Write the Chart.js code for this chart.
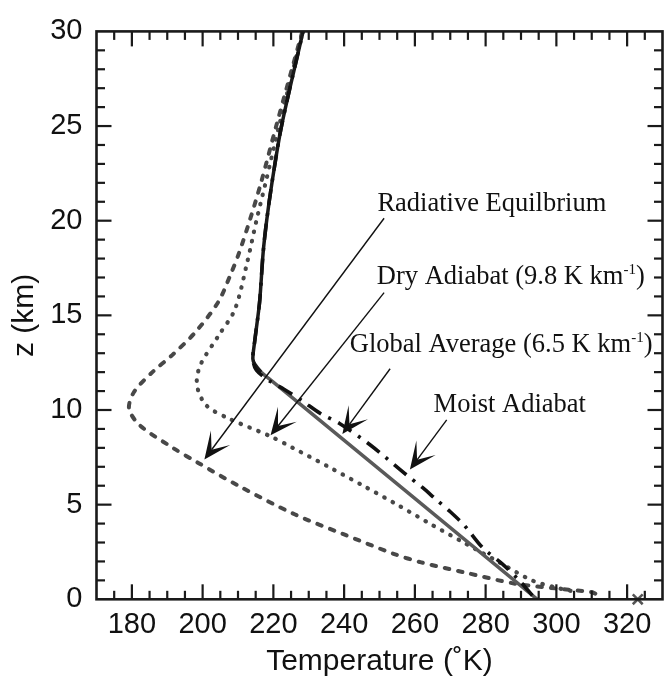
<!DOCTYPE html>
<html>
<head>
<meta charset="utf-8">
<script src="https://cdn.jsdelivr.net/npm/chart.js@4/dist/chart.umd.min.js"></script>
<style>
html,body{margin:0;padding:0;background:#fff;overflow:hidden;width:665px;height:680px}
#wrap{position:relative;width:672px;height:680px}
</style>
</head>
<body>
<div id="wrap"><canvas id="c" width="672" height="680"></canvas></div>
<script>
// ---- tick labels ----
const xTicks = [180, 200, 220, 240, 260, 280, 300, 320];
const yTicks = [0, 5, 10, 15, 20, 25, 30];

// ---- series: altitude (km) and temperature (K) ----
const radZ = [0.3, 0.38, 0.56, 0.82, 1.43, 1.95, 2.39, 3.44, 4.49, 5.97, 7.19, 8.0, 9.2, 10.07, 10.95, 12.0, 12.9, 14.1, 15.7, 17.2, 18.3, 20, 22, 25, 30];
const radT = [311, 309.9, 300.6, 288.5, 273.8, 261.8, 254.2, 239.8, 226.0, 210.4, 198.9, 191.6, 182.2, 179.2, 180.6, 185.8, 191.4, 197.9, 204.4, 208.0, 210.3, 213.3, 216.5, 220.8, 228.2];

const dryZ = [0.45, 0.6, 1.0, 2.0, 3.0, 4.0, 5.0, 6.0, 7.0, 8.0, 8.6, 9.55, 10.25, 11.3, 12.35, 13.9, 15.3, 17.8, 20, 22, 25, 30];
const dryT = [304, 300.3, 293.1, 283.4, 273.8, 264.2, 255.0, 245.4, 235.6, 225.5, 219.3, 207.4, 201.0, 198.4, 199.3, 204.4, 209.1, 212.6, 215.2, 217.8, 221.6, 228.3];

const globalZ = [0, 11.0, 11.5, 12.0, 12.4, 12.7, 13.6, 15.7, 18.3, 20, 22, 25, 30];
const globalT = [294.6, 223.1, 219.8, 216.6, 214.8, 214.2, 214.7, 216.1, 217.1, 218.1, 219.6, 222.3, 228.4];

const moistZ = [0.2, 1.0, 1.87, 2.74, 3.9, 4.66, 5.27, 5.88, 6.58, 8.15, 9.3, 9.8, 10.5, 11.1, 11.5, 12.1, 12.7, 13.6, 15.7, 18.3, 20, 22, 25, 30];
const moistT = [293.2, 289.5, 284.7, 279.1, 274, 269.8, 266, 262.3, 257.6, 247.4, 238.6, 233.4, 228, 223, 219.2, 215.2, 214.2, 214.7, 216.1, 217.1, 218.1, 219.6, 222.3, 228.4];

const markerT = [323];
const markerZ = [0];

// ---- annotations (data coordinates) ----
const noteText  = ['Radiative Equilbrium', 'Dry Adiabat (9.8 K km', 'Global Average (6.5 K km', 'Moist Adiabat'];
const noteSup   = ['', '-1', '-1', ''];
const noteTail  = ['', ')', ')', ''];
const noteT     = [249.4, 249.25, 241.6, 265.3];
const noteZ     = [20.53, 16.64, 13.06, 9.88];
const arrowFromT = [251.3, 251.3, 253.0, 269.0];
const arrowFromZ = [20.13, 16.2, 12.18, 9.48];
const arrowToT   = [200.5, 219.2, 239.5, 258.6];
const arrowToZ   = [7.39, 8.66, 8.73, 6.86];

const pts = (T, Z) => Z.map((z, i) => ({x: T[i], y: z}));
const base = {showLine: true, pointRadius: 0, pointHoverRadius: 0, fill: false, tension: 0.3};

const framePlugin = {
  id: 'frame',
  afterDraw(chart) {
    const {ctx, chartArea: a, scales: {x, y}} = chart;
    ctx.save();
    ctx.strokeStyle = '#1a1a1a';
    ctx.lineCap = 'butt';
    ctx.lineWidth = 2.2;
    for (let v = Math.ceil(x.min / 5) * 5; v <= x.max; v += 5) {
      if (v === x.min || v === x.max) continue;
      const px = x.getPixelForValue(v);
      const len = v % 20 === 0 ? 15 : 8.5;
      ctx.beginPath(); ctx.moveTo(px, a.bottom); ctx.lineTo(px, a.bottom - len); ctx.stroke();
      ctx.beginPath(); ctx.moveTo(px, a.top); ctx.lineTo(px, a.top + len); ctx.stroke();
    }
    for (let v = Math.ceil(y.min); v <= y.max; v += 1) {
      if (v === y.min || v === y.max) continue;
      const py = y.getPixelForValue(v);
      const len = v % 5 === 0 ? 15 : 8.5;
      ctx.beginPath(); ctx.moveTo(a.left, py); ctx.lineTo(a.left + len, py); ctx.stroke();
      ctx.beginPath(); ctx.moveTo(a.right, py); ctx.lineTo(a.right - len, py); ctx.stroke();
    }
    ctx.lineWidth = 2.6;
    ctx.strokeRect(a.left, a.top, a.right - a.left, a.bottom - a.top);
    ctx.restore();
  }
};

const notePlugin = {
  id: 'notes',
  afterDatasetsDraw(chart) {
    const {ctx, scales: {x, y}} = chart;
    ctx.save();
    ctx.fillStyle = '#111';
    ctx.strokeStyle = '#111';
    ctx.textBaseline = 'alphabetic';
    ctx.textAlign = 'left';
    const big = '26.5px "Liberation Serif", "Times New Roman", serif';
    const small = '15px "Liberation Serif", "Times New Roman", serif';
    for (let i = 0; i < noteText.length; i++) {
      let px = x.getPixelForValue(noteT[i]);
      const py = y.getPixelForValue(noteZ[i]);
      ctx.font = big;
      ctx.fillText(noteText[i], px, py);
      px += ctx.measureText(noteText[i]).width;
      if (noteSup[i]) {
        ctx.font = small;
        ctx.fillText(noteSup[i], px, py - 10);
        px += ctx.measureText(noteSup[i]).width;
      }
      if (noteTail[i]) {
        ctx.font = big;
        ctx.fillText(noteTail[i], px, py);
      }
      // arrow
      const x0 = x.getPixelForValue(arrowFromT[i]), y0 = y.getPixelForValue(arrowFromZ[i]);
      const x1 = x.getPixelForValue(arrowToT[i]), y1 = y.getPixelForValue(arrowToZ[i]);
      const dx = x1 - x0, dy = y1 - y0, L = Math.hypot(dx, dy);
      const ux = dx / L, uy = dy / L, nx = -uy, ny = ux;
      const HL = 27, HW = 12, NOTCH = 15;
      ctx.lineWidth = 1.4;
      ctx.beginPath(); ctx.moveTo(x0, y0); ctx.lineTo(x1 - ux * (HL - NOTCH), y1 - uy * (HL - NOTCH)); ctx.stroke();
      ctx.beginPath();
      ctx.moveTo(x1, y1);
      ctx.lineTo(x1 - ux * HL + nx * HW, y1 - uy * HL + ny * HW);
      ctx.lineTo(x1 - ux * (HL - NOTCH), y1 - uy * (HL - NOTCH));
      ctx.lineTo(x1 - ux * HL - nx * HW, y1 - uy * HL - ny * HW);
      ctx.closePath();
      ctx.fill();
    }
    ctx.restore();
  }
};

const tickFont = {family: '"Liberation Sans", Arial, sans-serif', size: 29};
const titleFont = {family: '"Liberation Sans", Arial, sans-serif', size: 30};

new Chart(document.getElementById('c'), {
  type: 'scatter',
  data: {
    datasets: [
      Object.assign({}, base, {
        label: 'Radiative Equilibrium', data: pts(radT, radZ),
        borderColor: '#484848', borderWidth: 4, borderDash: [4.5, 9], borderCapStyle: 'round', order: 3
      }),
      Object.assign({}, base, {
        label: 'Dry Adiabat', data: pts(dryT, dryZ),
        borderColor: '#484848', borderWidth: 4.2, borderDash: [0.5, 9], borderCapStyle: 'round', order: 2
      }),
      Object.assign({}, base, {
        label: 'Global Average', data: pts(globalT, globalZ),
        borderColor: '#5a5a5a', borderWidth: 3.5, order: 1,
        segment: {borderColor: c => c.p0.parsed.y >= 12.0 ? '#1a1a1a' : '#5a5a5a'}
      }),
      Object.assign({}, base, {
        label: 'Moist Adiabat', data: pts(moistT, moistZ),
        borderColor: '#111', borderWidth: 3.6, borderDash: [16, 8, 3, 8], order: 0
      }),
      {
        label: 'marker', data: pts(markerT, markerZ), showLine: false,
        pointStyle: 'crossRot', pointRadius: 7, borderColor: '#555', borderWidth: 2.5,
        backgroundColor: '#555', clip: false, order: 4
      }
    ]
  },
  options: {
    responsive: false,
    animation: false,
    devicePixelRatio: 1,
    layout: {padding: {top: 26.7, right: 3.6, bottom: 0, left: 0}},
    plugins: {legend: {display: false}, tooltip: {enabled: false}},
    events: [],
    scales: {
      x: {
        type: 'linear', position: 'bottom', min: 170, max: 330,
        afterBuildTicks: s => { s.ticks = xTicks.map(v => ({value: v})); },
        afterFit: s => { s.height = 80.7; },
        grid: {display: false, drawTicks: false},
        border: {display: false},
        ticks: {font: tickFont, color: '#111', padding: 8, maxRotation: 0, autoSkip: false},
        title: {display: true, text: 'Temperature (˚K)', font: titleFont, color: '#111', padding: {top: 0, bottom: 0}}
      },
      y: {
        type: 'linear', position: 'left', min: 0, max: 30,
        afterBuildTicks: s => { s.ticks = yTicks.map(v => ({value: v})); },
        afterFit: s => { s.width = 96.5; },
        grid: {display: false, drawTicks: false},
        border: {display: false},
        ticks: {font: tickFont, color: '#111', padding: 14, autoSkip: false},
        title: {display: true, text: 'z (km)', font: titleFont, color: '#111', padding: {top: 7, bottom: 0}}
      }
    }
  },
  plugins: [framePlugin, notePlugin]
});
</script>
</body>
</html>
